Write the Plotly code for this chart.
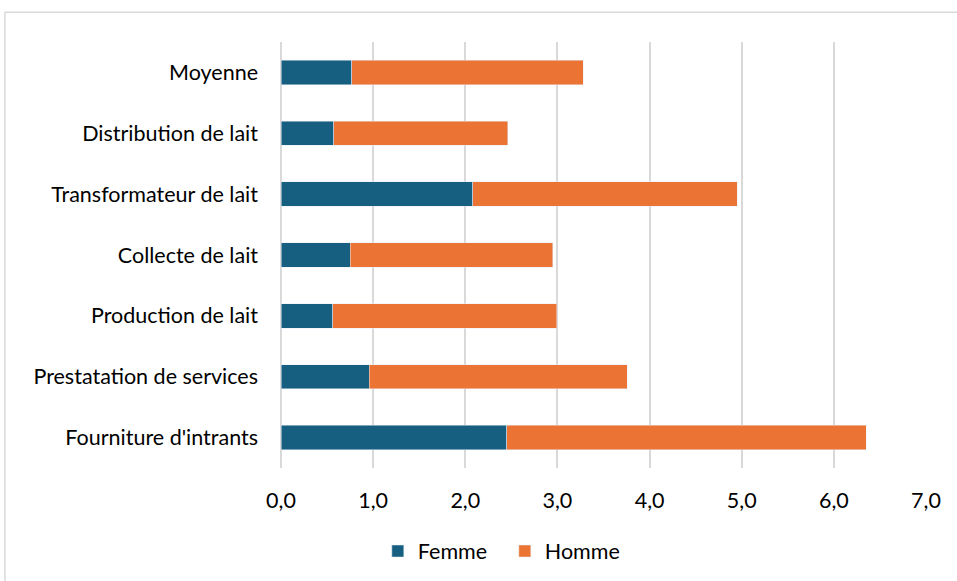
import plotly.graph_objects as go

categories = ['Moyenne', 'Distribution de lait', 'Transformateur de lait', 'Collecte de lait',
              'Production de lait', 'Prestatation de services', "Fourniture d'intrants"]
femme = [0.77, 0.57, 2.08, 0.75, 0.56, 0.96, 2.45]
homme = [2.51, 1.89, 2.87, 2.20, 2.43, 2.80, 3.90]
x_ticks = [0, 1, 2, 3, 4, 5, 6, 7]

font_family = 'Lato, "Open Sans", sans-serif'

fig = go.Figure()
fig.add_trace(go.Bar(y=categories, x=femme, orientation='h', name='Femme',
                     marker_color='#175F80'))
fig.add_trace(go.Bar(y=categories, x=homme, orientation='h', name='Homme',
                     marker_color='#EB7333'))

fig.update_layout(
    barmode='stack',
    bargap=0.6,
    width=957, height=581,
    margin=dict(l=281, r=31, t=42, b=113, autoexpand=False),
    paper_bgcolor='white', plot_bgcolor='white',
    separators=', ',
    font=dict(family=font_family, size=21.5, color='#000000'),
    legend=dict(orientation='h', x=0.347, y=-0.195, xanchor='center', yanchor='middle',
                font=dict(size=21.5), traceorder='normal', itemwidth=30,
                entrywidth=82, entrywidthmode='pixels'),
    shapes=[dict(type='rect', xref='paper', yref='paper',
                 x0=-0.428, x1=1.06, y0=-0.28, y1=1.07,
                 line=dict(color='#d9d9d9', width=1.5), fillcolor='rgba(0,0,0,0)', layer='below')],
)
fig.update_xaxes(range=[0, 7], tickvals=x_ticks, tickformat='.1f', showgrid=True,
                 gridcolor='#d9d9d9', gridwidth=1.5, zeroline=True, zerolinecolor='#d9d9d9',
                 zerolinewidth=1.5, showline=False, ticklabelstandoff=17, fixedrange=True)
fig.update_yaxes(categoryorder='array', categoryarray=categories, autorange='reversed',
                 showgrid=False, showline=False, ticklabelstandoff=22, fixedrange=True)

# the page body has a default margin; drop it so the figure sits at the window's corner
fig.write_html('out.html', config={'displayModeBar': False},
               post_script="document.body.style.margin='0';")
